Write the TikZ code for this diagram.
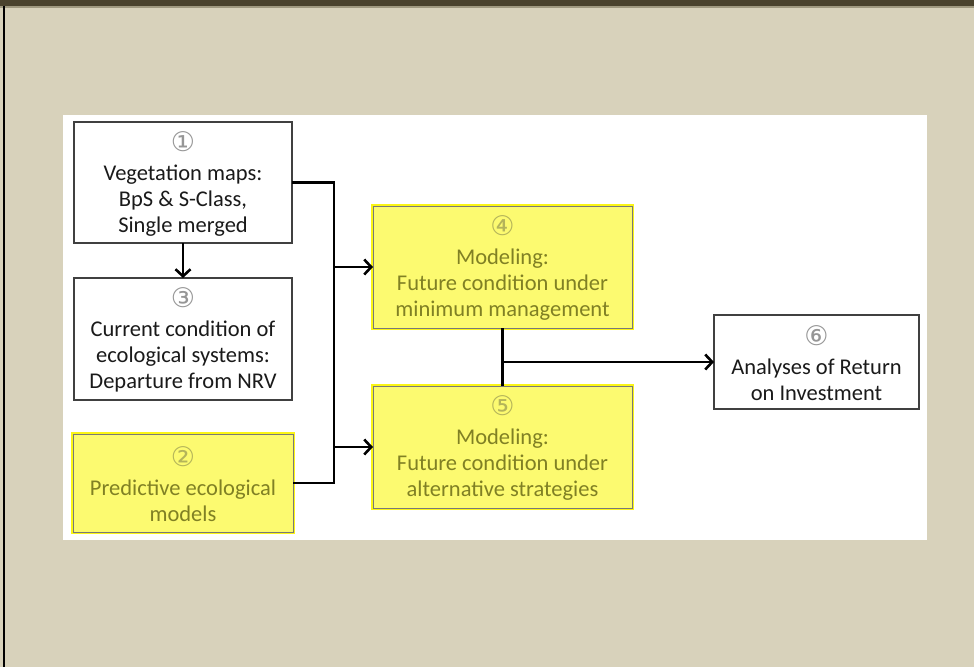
\documentclass[tikz,border=0pt]{standalone}
\usepackage{fontspec}
\setmainfont{Carlito}
\newfontfamily\circfont{DejaVu Sans}
\usetikzlibrary{arrows.meta}
\definecolor{slidebg}{RGB}{216,210,187}
\definecolor{topbar}{RGB}{74,67,45}
\definecolor{topline}{RGB}{160,154,128}
\definecolor{boxline}{RGB}{64,64,64}
\definecolor{boxtext}{RGB}{26,26,26}
\definecolor{numgray}{RGB}{150,150,150}
\definecolor{hlfill}{RGB}{252,250,112}
\definecolor{hledge}{RGB}{250,245,20}
\definecolor{hltext}{RGB}{128,128,36}
\definecolor{hlnum}{RGB}{180,180,90}
% circled step number on its own first line
\newcommand{\numtag}[2]{\rule{0pt}{22pt}{\circfont\fontsize{27}{26}\selectfont\color{#1}#2}\\[3pt]}
\begin{document}
\begin{tikzpicture}[x=1pt,y=-1pt,
  every node/.style={inner sep=0pt, outer sep=0pt},
  plainbox/.style={draw=boxline, line width=1.6pt, fill=white, align=center,
    text=boxtext, font=\fontsize{22.5}{26}\selectfont},
  hlbox/.style={draw=boxline!70, line width=0.8pt, fill=hlfill, align=center,
    text=hltext, font=\fontsize{22.5}{26}\selectfont,
    preaction={draw=hledge, line width=3.4pt}},
  link/.style={draw=black, line width=2.6pt},
  arrowlink/.style={link, -{Straight Barb[length=7pt,width=15pt,line width=2.6pt]}}
]
% slide background and frame
\fill[slidebg] (0,0) rectangle (974,667);
\useasboundingbox (0,0) rectangle (974,667);
\fill[topbar] (0,0) rectangle (974,6);
\fill[topline] (0,6) rectangle (974,7.5);
\fill[black] (3,6) rectangle (5,667);
% white panel holding the flowchart
\fill[white] (63,115) rectangle (927,540);

% boxes
\node[plainbox, minimum width=218pt, minimum height=121pt] (b1) at (183,182.5)
  {\numtag{numgray}{①}Vegetation maps:\\BpS \& S-Class,\\Single merged};
\node[plainbox, minimum width=218pt, minimum height=122pt] (b3) at (183,339)
  {\numtag{numgray}{③}Current condition of\\ecological systems:\\Departure from NRV};
\node[hlbox, minimum width=220pt, minimum height=98pt] (b2) at (183,483)
  {\numtag{hlnum}{②}Predictive ecological\\models};
\node[hlbox, minimum width=259pt, minimum height=122pt] (b4) at (502.5,267)
  {\numtag{hlnum}{④}Modeling:\\Future condition under\\minimum management};
\node[hlbox, minimum width=259pt, minimum height=122pt] (b5) at (502.5,447)
  {\numtag{hlnum}{⑤}Modeling:\\Future condition under\\alternative strategies};
\node[plainbox, minimum width=205pt, minimum height=94pt] (b6) at (816.5,362)
  {\numtag{numgray}{⑥}Analyses of Return\\on Investment};

% connectors
\coordinate (busTop) at (334,0 |- b1.east);
\coordinate (busBot) at (334,0 |- b2.east);
\draw[arrowlink] (b1.south) -- (b3.north);
\draw[link] (b1.east) -- (busTop) -- (busBot) -- (b2.east);
\draw[arrowlink] (busTop |- b4.west) -- (b4.west);
\draw[arrowlink] (busTop |- b5.west) -- (b5.west);
\coordinate (join) at (b4.south |- b6.west);
\draw[link] (b4.south) -- (b5.north);
\draw[arrowlink] (join) -- (b6.west);
\end{tikzpicture}
\end{document}
